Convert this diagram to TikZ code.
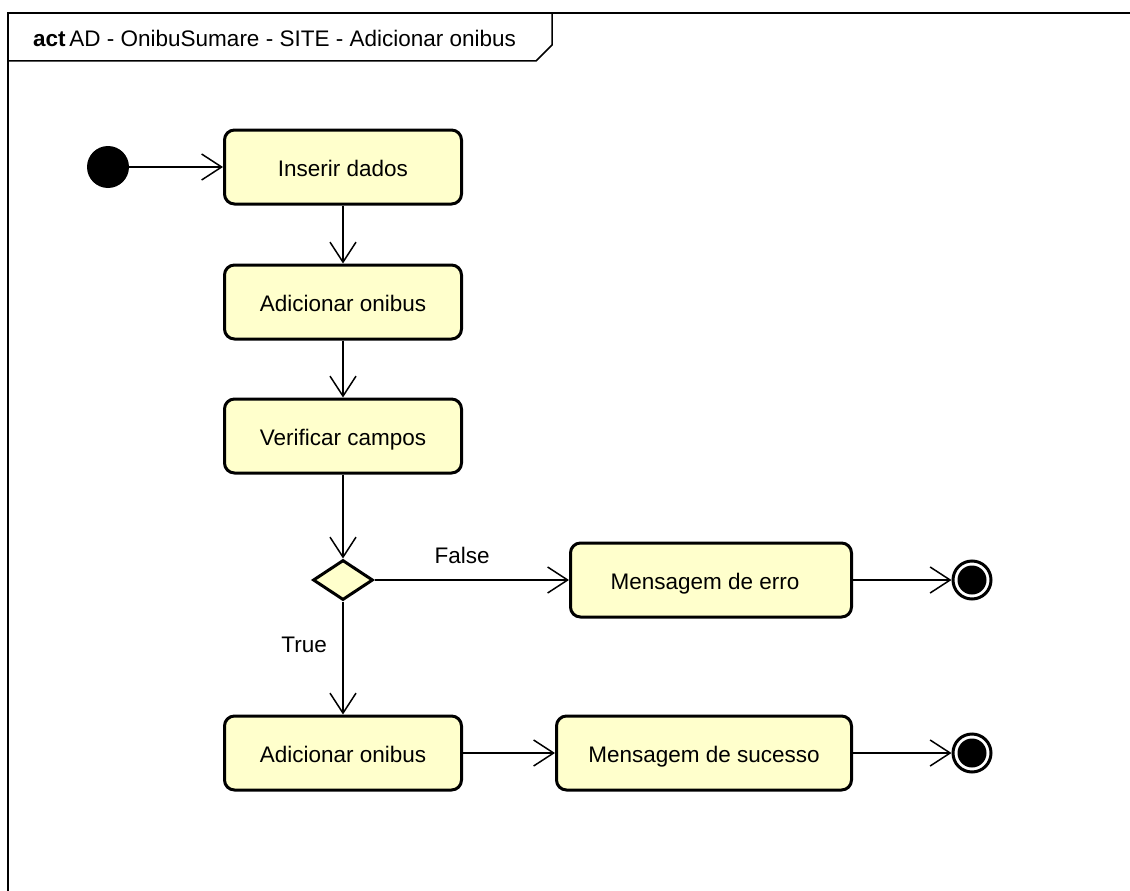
\documentclass[tikz,border=0pt]{standalone}
\usepackage{fontspec}
\setmainfont{Liberation Sans}
\usetikzlibrary{arrows.meta,shapes.geometric}
\definecolor{actfill}{HTML}{FFFFCC}
\tikzset{
  every node/.style={font=\fontsize{22.5}{26}\selectfont},
  action/.style={draw=black, line width=3pt, fill=actfill, rounded corners=10pt,
                 minimum width=237pt, minimum height=74pt, inner sep=0pt,
                 text height=19pt, text depth=0pt},
  decision/.style={draw=black, line width=3pt, fill=actfill, diamond, aspect=1.5,
                   minimum width=60pt, minimum height=40pt, inner sep=0pt},
  initial/.style={circle, fill=black, minimum size=42pt, inner sep=0pt},
  finalring/.style={circle, draw=black, line width=3pt, fill=white,
                    minimum size=38pt, inner sep=0pt},
  flow/.style={draw=black, line width=1.5pt,
               -{Straight Barb[length=20pt, width=26pt, line width=1.5pt]}},
  guard/.style={text=black}
}
\begin{document}
\begin{tikzpicture}[x=1pt, y=-1pt]
\useasboundingbox (0,0) rectangle (1130,891);
\fill[white] (0,0) rectangle (1130,891);

% frame with its name tab
\draw[line width=2pt] (8,891) -- (8,13) -- (1130,13);
\draw[line width=1.5pt] (8,61) -- (536,61) -- (552,45) -- (552,13);
\node[anchor=west, inner sep=0pt] (title) at (33,38)
  {\textbf{act}\,AD - OnibuSumare - SITE - Adicionar onibus};

% nodes
\node[initial] (start) at (108,167) {};
\node[action] (inserir) at (343,167) {Inserir dados};
\node[action] (add1) at (343,302) {Adicionar onibus};
\node[action] (verif) at (343,436) {Verificar campos};
\node[decision] (dec) at (343,580) {};
\node[action, minimum width=281pt] (erro) at (711,580) {\hspace*{-12pt}Mensagem de erro};
\node[action] (add2) at (343,753) {Adicionar onibus};
\node[action, minimum width=295pt] (sucesso) at (704,753) {Mensagem de sucesso};

% final nodes: black ring, white gap, black dot
\node[finalring] (end1) at (972,580) {};
\fill[black] (end1.center) circle (14.5pt);
\node[finalring] (end2) at (972,753) {};
\fill[black] (end2.center) circle (14.5pt);

% control flows
\draw[flow] (start) -- (inserir);
\draw[flow] (inserir) -- (add1);
\draw[flow] (add1) -- (verif);
\draw[flow] (verif) -- (dec);
\draw[flow] (dec.east) -- node[guard, above=12pt, pos=0.45] (lfalse) {False} (erro.west);
\draw[flow] (erro) -- (end1);
\draw[flow] (dec.south) -- node[guard, left=12pt, pos=0.38] (ltrue) {True} (add2.north);
\draw[flow] (add2) -- (sucesso);
\draw[flow] (sucesso) -- (end2);
\end{tikzpicture}
\end{document}
